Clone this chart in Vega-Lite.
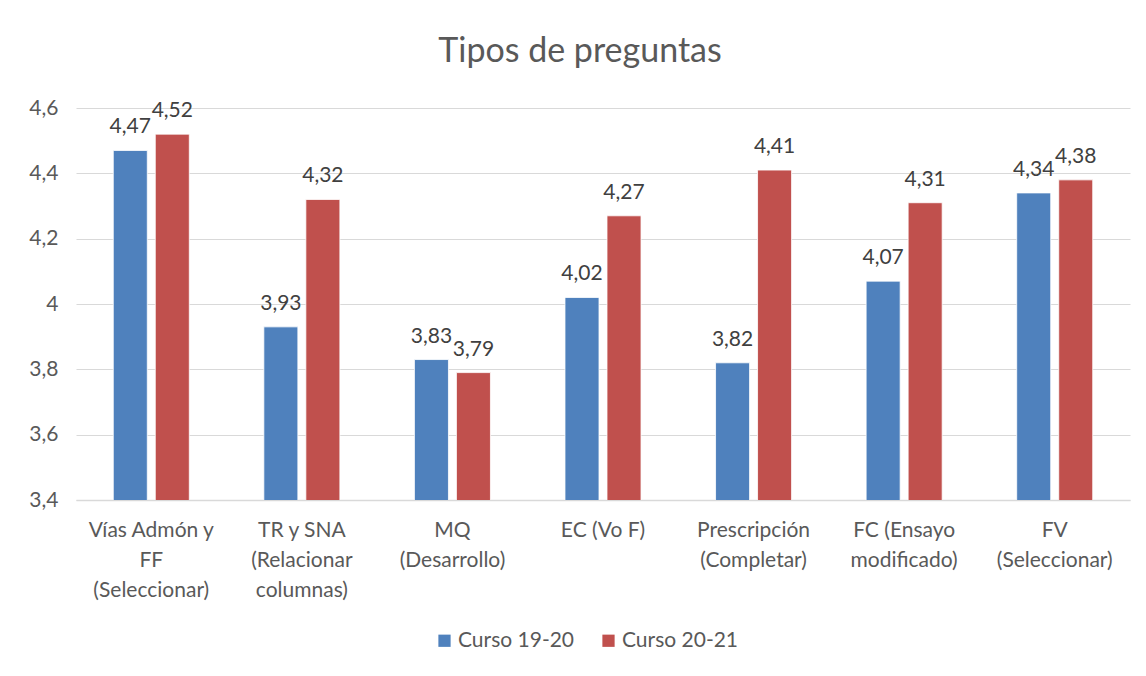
{
  "$schema": "https://vega.github.io/schema/vega-lite/v6.json",
  "width": 1054,
  "height": 392,
  "autosize": "none",
  "padding": {"left": 76, "top": 108, "right": 16, "bottom": 176},
  "background": "white",
  "title": {"text": "Tipos de preguntas", "fontSize": 34, "font": "Lato", "fontWeight": "normal", "color": "#595959", "anchor": "middle", "offset": 28, "dx": -23},
  "config": {
    "locale": {"number": {"decimal": ",", "thousands": ".", "grouping": [3], "currency": ["", "€"]}},
    "view": {"stroke": null},
    "font": "Lato"
  },
  "data": {"values": [
    {"cat": "Vías Admón y\nFF\n(Seleccionar)", "serie": "Curso 19-20", "v": 4.47},
    {"cat": "Vías Admón y\nFF\n(Seleccionar)", "serie": "Curso 20-21", "v": 4.52},
    {"cat": "TR y SNA\n(Relacionar\ncolumnas)", "serie": "Curso 19-20", "v": 3.93},
    {"cat": "TR y SNA\n(Relacionar\ncolumnas)", "serie": "Curso 20-21", "v": 4.32},
    {"cat": "MQ\n(Desarrollo)", "serie": "Curso 19-20", "v": 3.83},
    {"cat": "MQ\n(Desarrollo)", "serie": "Curso 20-21", "v": 3.79},
    {"cat": "EC (Vo F)", "serie": "Curso 19-20", "v": 4.02},
    {"cat": "EC (Vo F)", "serie": "Curso 20-21", "v": 4.27},
    {"cat": "Prescripción\n(Completar)", "serie": "Curso 19-20", "v": 3.82},
    {"cat": "Prescripción\n(Completar)", "serie": "Curso 20-21", "v": 4.41},
    {"cat": "FC (Ensayo\nmodificado)", "serie": "Curso 19-20", "v": 4.07},
    {"cat": "FC (Ensayo\nmodificado)", "serie": "Curso 20-21", "v": 4.31},
    {"cat": "FV\n(Seleccionar)", "serie": "Curso 19-20", "v": 4.34},
    {"cat": "FV\n(Seleccionar)", "serie": "Curso 20-21", "v": 4.38}
  ]},
  "encoding": {
    "x": {"field": "cat", "type": "nominal", "sort": null,
      "scale": {"paddingInner": 0.495, "paddingOuter": 0.2475},
      "axis": {"title": null, "labelAngle": 0, "labelExpr": "split(datum.label, '\\n')", "labelFontSize": 21, "labelColor": "#595959", "labelLineHeight": 30, "labelPadding": 19, "ticks": false, "domainColor": "#d9d9d9", "domainWidth": 1.5, "labelFont": "Lato"}},
    "xOffset": {"field": "serie", "type": "nominal", "scale": {"paddingInner": 0.19, "paddingOuter": 0}},
    "y": {"field": "v", "type": "quantitative",
      "scale": {"domain": [3.4, 4.6], "zero": false, "nice": false},
      "axis": {"title": null, "values": [3.4, 3.6, 3.8, 4, 4.2, 4.4, 4.6], "format": ".1~f", "labelFontSize": 21, "labelColor": "#595959", "labelPadding": 18, "ticks": false, "domain": false, "gridColor": "#d9d9d9", "gridWidth": 1.2, "labelFont": "Lato"}}
  },
  "layer": [
    {
      "mark": {"type": "bar", "clip": true, "stroke": "white", "strokeWidth": 0.8},
      "encoding": {
        "color": {"field": "serie", "type": "nominal",
          "scale": {"domain": ["Curso 19-20", "Curso 20-21"], "range": ["#4F81BD", "#C0504D"]},
          "legend": {"title": null, "orient": "none", "legendX": 358, "legendY": 522, "direction": "horizontal", "symbolType": "square", "symbolSize": 150, "labelFontSize": 21, "labelColor": "#595959", "columnPadding": 23, "labelOffset": 3, "labelFont": "Lato", "symbolStrokeWidth": 0}}
      }
    },
    {
      "mark": {"type": "text", "baseline": "alphabetic", "dy": -17, "fontSize": 21, "color": "#404040", "font": "Lato"},
      "encoding": {
        "text": {"field": "v", "type": "quantitative", "format": ".2f"}
      }
    }
  ]
}
